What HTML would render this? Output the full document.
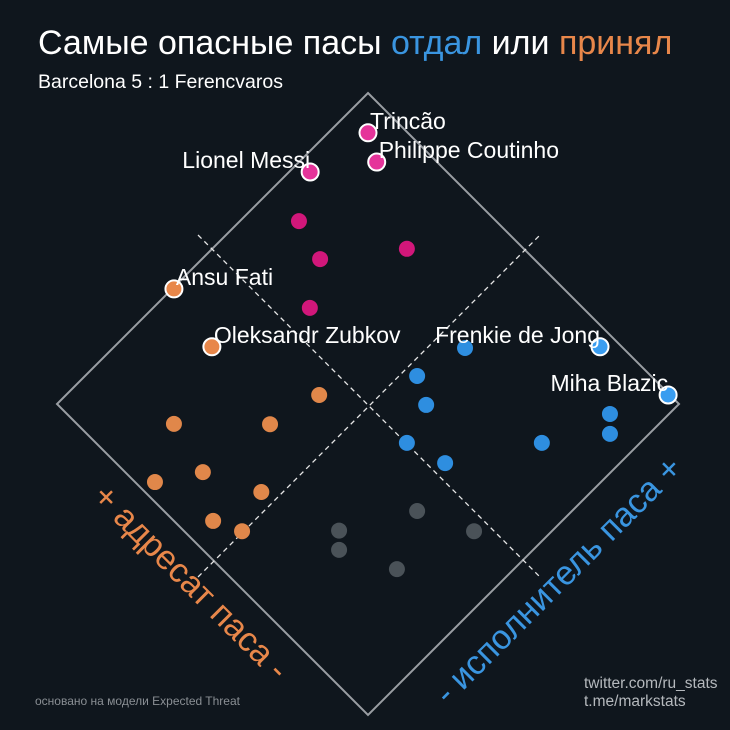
<!DOCTYPE html>
<html><head><meta charset="utf-8"><style>
html,body{margin:0;padding:0;background:#0f161d;}
svg{display:block;font-family:"Liberation Sans","DejaVu Sans",sans-serif;}
</style></head><body>
<svg id="chart" width="730" height="730" viewBox="0 0 730 730">
<rect width="730" height="730" fill="#0f161d"/>
<text x="38" y="54" font-size="34" fill="#ffffff">Самые опасные пасы <tspan fill="#3a95e0">отдал</tspan> или <tspan fill="#e8874a">принял</tspan></text>
<text x="38" y="88" font-size="19.5" fill="#ffffff">Barcelona 5 : 1 Ferencvaros</text>
<polygon points="368,93 679,404 368,715 57,404" fill="none" stroke="#9a9ea3" stroke-width="2"/>
<line x1="198" y1="235" x2="540" y2="577" stroke="#e6e6e6" stroke-width="1.3" stroke-dasharray="5,4"/>
<line x1="198" y1="577" x2="540" y2="235" stroke="#e6e6e6" stroke-width="1.3" stroke-dasharray="5,4"/>
<g id="points"></g>
<g id="labels"></g>
<text transform="translate(183,590) rotate(45)" text-anchor="middle" font-size="34" fill="#e8874a">+ адресат паса -</text>
<text transform="translate(566,588) rotate(-45)" text-anchor="middle" font-size="34" fill="#3a95e0">- исполнитель паса +</text>
<text x="35" y="705" font-size="12" fill="#8a8f94">основано на модели Expected Threat</text>
<text x="584" y="688" font-size="15.5" fill="#b5b9bd">twitter.com/ru_stats</text>
<text x="584" y="706" font-size="15.5" fill="#b5b9bd">t.me/markstats</text>
</svg>
<script>
const names = ["Trincão","Philippe Coutinho","Lionel Messi","","","","","Ansu Fati","Oleksandr Zubkov","","","","","","","","","Frenkie de Jong","Miha Blazic","","","","","","","","","","","","",""];
const groups = ["pink","pink","pink","pink","pink","pink","pink","orange","orange","orange","orange","orange","orange","orange","orange","orange","orange","blue","blue","blue","blue","blue","blue","blue","blue","blue","blue","gray","gray","gray","gray","gray"];
const passerValues = [0.936,0.903,0.78,0.683,0.656,0.812,0.561,0.373,0.341,0.436,0.156,0.31,0.125,0.032,0.187,0.063,0.093,0.965,0.997,0.746,0.624,0.592,0.5,0.529,0.717,0.873,0.841,0.25,0.219,0.407,0.466,0.281];
const receiverValues = [0.936,0.875,0.966,0.905,0.81,0.687,0.748,0.997,0.843,0.593,0.78,0.625,0.656,0.717,0.53,0.561,0.498,0.219,0.032,0.434,0.466,0.405,0.375,0.281,0.158,0.095,0.063,0.343,0.312,0.249,0.125,0.188];
const labelSide = ["right","right","left","","","","","right","right","","","","","","","","","left","left"];

const NS="http://www.w3.org/2000/svg";
const BX=368, BY=715, H=311;
function px(p,r){return BX+H*(p-r);}
function py(p,r){return BY-H*(p+r);}
const colors={pink:"#d1177a",orange:"#e0874a",blue:"#2e8ee0",gray:"#4a5258"};
const hiColors={pink:"#e5349a",orange:"#e8874a",blue:"#3a9df0"};
const gP=document.getElementById("points"), gL=document.getElementById("labels");
for(let i=0;i<passerValues.length;i++){
  const x=px(passerValues[i],receiverValues[i]), y=py(passerValues[i],receiverValues[i]);
  const c=document.createElementNS(NS,"circle");
  c.setAttribute("cx",x);c.setAttribute("cy",y);c.setAttribute("r",names[i]?8.5:8);
  const g=groups[i];
  if(names[i]){c.setAttribute("fill",hiColors[g]);c.setAttribute("stroke","#ffffff");c.setAttribute("stroke-width","2");}
  else c.setAttribute("fill",colors[g]);
  
  
  gP.appendChild(c);
  if(names[i]){
    const t=document.createElementNS(NS,"text");
    const right=labelSide[i]==="right";
    t.setAttribute("x",right?x+2:x);
    t.setAttribute("y",y-4);
    t.setAttribute("text-anchor",right?"start":"end");
    t.setAttribute("font-size","23");
    t.setAttribute("textLength", "");
    t.removeAttribute("textLength");
    t.setAttribute("fill","#ffffff");
    t.textContent=names[i];
    
    
    gL.appendChild(t);
  }
}
</script>
</body></html>
